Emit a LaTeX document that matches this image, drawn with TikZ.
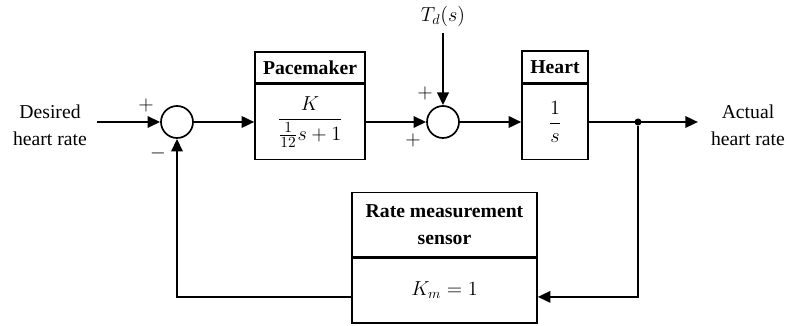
\documentclass[tikz,border=0pt]{standalone}
\usepackage{amsmath}
\usepackage{fontspec}
\setmainfont{Liberation Serif}
\usetikzlibrary{positioning,arrows.meta}

\begin{document}
\begin{tikzpicture}[
  font=\fontsize{14}{19}\selectfont,
  sig/.style={line width=1.8pt, -{Triangle[length=9pt, width=8pt]}},
  blk/.style={draw, line width=1pt, inner sep=0pt, align=center},
  ttl/.style={blk, font=\fontsize{14}{19}\selectfont\bfseries},
  sumj/.style={draw, circle, line width=1.2pt, minimum size=0.8cm, inner sep=0pt},
  sgn/.style={font=\fontsize{14}{16}\selectfont},
]
\useasboundingbox (0,0) rectangle (19.775,8.15);

% ---- forward path ----
\node[align=center] (desired) at (1.25,5.025) {Desired\\heart rate};
\coordinate (in) at (2.425,5.1);
\node[sumj] (s1) at (4.425,5.1) {};
\node[sgn] (p1) at (3.65,5.525) {$+$};
\node[sgn] (m1) at (3.95,4.325) {$-$};

\node[blk, minimum width=2.75cm, minimum height=1.875cm] (pm) at (7.75,5.1)
  {\fontsize{15}{18}\selectfont$\dfrac{K}{\frac{1}{12}s+1}$};
\node[ttl, minimum width=2.75cm, minimum height=0.775cm, above=0pt of pm] (pmT) {Pacemaker};

\node[sumj] (s2) at (11.075,5.1) {};
\node (td) at (11.075,7.75) {$T_d(s)$};
\coordinate (tdin) at (11.075,7.325);
\node[sgn] (p2) at (10.625,5.825) {$+$};
\node[sgn] (p3) at (10.325,4.65) {$+$};

\node[blk, minimum width=1.65cm, minimum height=1.875cm] (ht) at (13.875,5.1)
  {\fontsize{15}{18}\selectfont$\dfrac{1}{s}$};
\node[ttl, minimum width=1.65cm, minimum height=0.8cm, above=0pt of ht] (htT) {Heart};

\node[circle, fill, inner sep=0pt, minimum size=5pt] (dot) at (15.95,5.1) {};
\coordinate (out) at (17.45,5.1);
\node[align=center] (actual) at (18.7,5.025) {Actual\\heart rate};

% ---- feedback path ----
\node[blk, minimum width=4.625cm, minimum height=1.625cm] (sen) at (11.1125,0.8875) {$K_m = 1$};
\node[ttl, minimum width=4.625cm, minimum height=1.6cm, above=0pt of sen] (senT)
  {Rate measurement\\sensor};
\coordinate (senin) at ([yshift=-0.16cm]sen.east);
\coordinate (senout) at ([yshift=-0.16cm]sen.west);

% ---- connectors ----
\draw[sig] (in) -- (s1);
\draw[sig] (s1) -- (pm);
\draw[sig] (pm) -- (s2);
\draw[sig] (tdin) -- (s2);
\draw[sig] (s2) -- (ht);
\draw[sig] (ht) -- (out);
\draw[sig] (dot) |- (senin);
\draw[sig] (senout) -| (s1);
\end{tikzpicture}
\end{document}
